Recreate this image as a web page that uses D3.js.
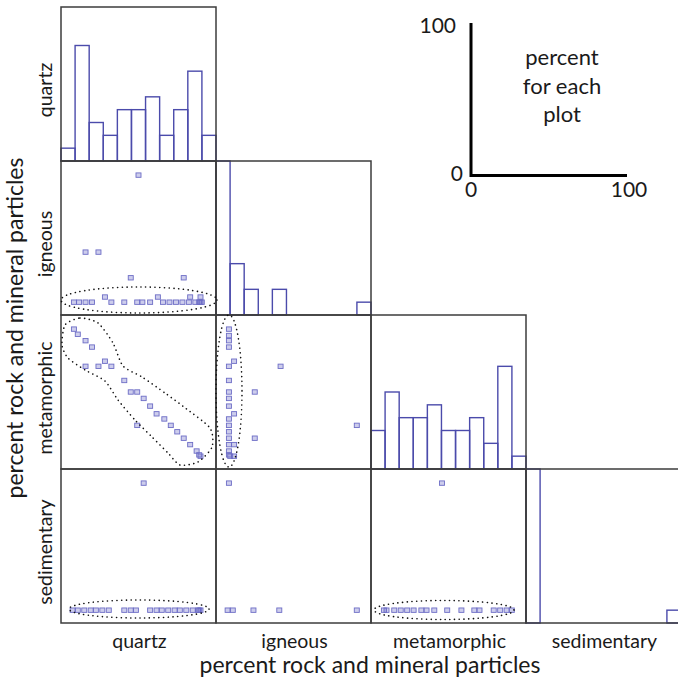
<!DOCTYPE html>
<html>
<head>
<meta charset="utf-8">
<script src="https://cdn.jsdelivr.net/npm/d3@7"></script>
<style>
  html, body { margin: 0; padding: 0; background: #ffffff; }
  svg { display: block; }
  text { font-family: Lato, "Open Sans", sans-serif; fill: #1a1a1a; }
</style>
</head>
<body>
<svg id="chart" width="678" height="680"></svg>
<script>
// ---------- data ----------
const variables = ["quartz", "igneous", "metamorphic", "sedimentary"];

// histogram counts (11 bins across 0-100 %)
const quartzCounts      = [1, 9, 3, 2, 4, 4, 5, 2, 4, 7, 2];
const igneousCounts     = [34, 4, 2, 0, 2, 0, 0, 0, 0, 0, 1];
const metamorphicCounts = [3, 6, 4, 4, 5, 3, 3, 4, 2, 8, 1];
const sedimentaryCounts = [42, 0, 0, 0, 0, 0, 0, 0, 0, 0, 1];

// scatter points [x %, y %]
const quartzIgneous = [[50,99],[9,39],[19,39],[44,19],[85,19],
  [0,0],[4,0],[9,0],[14,0],[29,0],[39,0],[49,0],[53,0],[59,0],[69,0],[74,0],[79,0],[84,0],[89,0],[94,0],[97,0],[98,0],[99,0],
  [24,4],[65,4],[90,4],[98,4]];
const quartzMetamorphic = [[0,99],[3,95],[9,90],[14,85],[24,74],[9,70],[19,70],[29,70],[39,59],[44,50],[49,50],[54,45],
  [59,39],[64,33],[70,29],[75,24],[80,19],[85,14],[90,9],[95,4],[97,1],[98,0],[49,24]];
const quartzSedimentary = [[54,99],[-1,0],[3,0],[8,0],[13,0],[17,0],[22,0],[27,0],[39,0],[44,0],[48,0],
  [59,0],[64,0],[68,0],[73,0],[78,0],[82,0],[87,0],[92,0],[96,0],[97,0],[98,0]];
const igneousMetamorphic = [[0,99],[0,94],[0,90],[0,85],[4,74],[0,70],[0,59],[0,50],[0,45],[0,39],[4,33],[0,29],
  [0,24],[0,19],[0,14],[0,9],[4,9],[0,4],[0,1],[1,0],[4,0],[40,70],[20,50],[20,14],[99,24]];
const igneousSedimentary = [[0,99],[-1,0],[3,0],[19,0],[39,0],[99,0]];
const metamorphicSedimentary = [[45,99],[0,0],[2,0],[8,0],[13,0],[18,0],[23,0],[29,0],[33,0],[39,0],[49,0],
  [60,0],[70,0],[74,0],[85,0],[90,0],[95,0],[99,0]];

const keyTicks = ["0", "100"];

// ---------- layout ----------
const svg = d3.select("#chart");
const X0 = 61, Y0 = 7, CW = 155, CH = 154;
const histColor = "#4b4bab";
const borderColor = "#3c3c3c";

const histCounts = [quartzCounts, igneousCounts, metamorphicCounts, sedimentaryCounts];
const scatterSets = [
  {c: 0, r: 1, pts: quartzIgneous},
  {c: 0, r: 2, pts: quartzMetamorphic},
  {c: 0, r: 3, pts: quartzSedimentary},
  {c: 1, r: 2, pts: igneousMetamorphic},
  {c: 1, r: 3, pts: igneousSedimentary},
  {c: 2, r: 3, pts: metamorphicSedimentary}
];

const sx = d3.scaleLinear().domain([-10, 110]).range([0, CW]);
const sy = d3.scaleLinear().domain([-10, 110]).range([CH, 0]);
const hx = d3.scaleLinear().domain([0, 11]).range([0, CW]);
const hy = d3.scaleLinear().domain([0, 12]).range([CH, 0]).clamp(true);

// histograms
histCounts.forEach((counts, i) => {
  const g = svg.append("g").attr("transform", `translate(${X0 + i*CW},${Y0 + i*CH})`);
  g.selectAll("rect.bar").data(counts.map((v, k) => ({v, k})).filter(d => d.v > 0))
    .enter().append("rect")
    .attr("x", d => hx(d.k)).attr("width", hx(1) - hx(0))
    .attr("y", d => hy(d.v)).attr("height", d => CH - hy(d.v))
    .attr("fill", "none").attr("stroke", histColor).attr("stroke-width", 1.4);
});

// scatter points
scatterSets.forEach(s => {
  const g = svg.append("g").attr("transform", `translate(${X0 + s.c*CW},${Y0 + s.r*CH})`);
  g.selectAll("rect.pt").data(s.pts).enter().append("rect")
    .attr("x", d => sx(d[0]) - 2.5).attr("y", d => sy(d[1]) - 2.2)
    .attr("width", 5).attr("height", 4.4)
    .attr("fill", "#5b5bc0").attr("fill-opacity", 0.3)
    .attr("stroke", "#6d6dc6").attr("stroke-width", 0.9);
});

// cell borders
for (let r = 0; r < 4; r++) {
  for (let c = 0; c <= r; c++) {
    svg.append("rect")
      .attr("x", X0 + c*CW).attr("y", Y0 + r*CH)
      .attr("width", CW).attr("height", CH)
      .attr("fill", "none").attr("stroke", borderColor).attr("stroke-width", 1.5);
  }
}

// dotted annotation loops
const dotted = (sel) => sel.attr("fill", "none").attr("stroke", "#111")
  .attr("stroke-width", 1.6).attr("stroke-linecap", "round").attr("stroke-dasharray", "0.1,4.6");

svg.append("ellipse").attr("cx", 139).attr("cy", 300).attr("rx", 78).attr("ry", 13).call(dotted);
svg.append("ellipse").attr("cx", 139).attr("cy", 609).attr("rx", 70).attr("ry", 9).call(dotted);
svg.append("ellipse").attr("cx", 444).attr("cy", 610).attr("rx", 70).attr("ry", 9.5).call(dotted);
svg.append("ellipse").attr("cx", 229).attr("cy", 391).attr("rx", 13).attr("ry", 76).call(dotted);

const loopPts = [[65,325],[80,318],[98,323],[113,343],[123,366],[142,377],[165,393],[184,407],[210,428],
  [212,447],[198,462],[180,465],[168,453],[152,437],[135,420],[118,400],[105,381],[85,370],[68,358],[62,345]];
svg.append("path").attr("d", d3.line().curve(d3.curveCardinalClosed.tension(0.3))(loopPts)).call(dotted);

// labels
variables.forEach((v, i) => {
  svg.append("text").attr("x", X0 + i*CW + CW/2 + 1).attr("y", 648)
    .attr("text-anchor", "middle").attr("font-size", 19.5).text(v);
  svg.append("text").attr("transform", `translate(52,${Y0 + i*CH + CH/2 + 6}) rotate(-90)`)
    .attr("text-anchor", "middle").attr("font-size", 19.5).text(v);
});
svg.append("text").attr("x", 370).attr("y", 673).attr("text-anchor", "middle")
  .attr("font-size", 23).text("percent rock and mineral particles");
svg.append("text").attr("transform", "translate(23,328) rotate(-90)").attr("text-anchor", "middle")
  .attr("font-size", 23).text("percent rock and mineral particles");

// key
const kx = d3.scaleLinear().domain([0, 100]).range([471, 627]);
const ky = d3.scaleLinear().domain([0, 100]).range([175.5, 23]);
svg.append("path").attr("d", `M${kx(0)},${ky(100)}V${ky(0)}H${kx(100)}`)
  .attr("fill", "none").attr("stroke", "#000").attr("stroke-width", 3);
svg.append("text").attr("x", kx(0) - 15).attr("y", ky(100) + 10).attr("text-anchor", "end")
  .attr("font-size", 21).text(keyTicks[1]);
svg.append("text").attr("x", kx(0) - 8).attr("y", ky(0) + 5).attr("text-anchor", "end")
  .attr("font-size", 21).text(keyTicks[0]);
svg.append("text").attr("x", kx(0)).attr("y", 197).attr("text-anchor", "middle")
  .attr("font-size", 21).text(keyTicks[0]);
svg.append("text").attr("x", kx(100)+2).attr("y", 197).attr("text-anchor", "middle")
  .attr("font-size", 21).text(keyTicks[1]);
["percent", "for each", "plot"].forEach((t, i) => {
  svg.append("text").attr("x", 562).attr("y", 65 + i*28.5).attr("text-anchor", "middle")
    .attr("font-size", 22).text(t);
});
</script>
</body>
</html>
